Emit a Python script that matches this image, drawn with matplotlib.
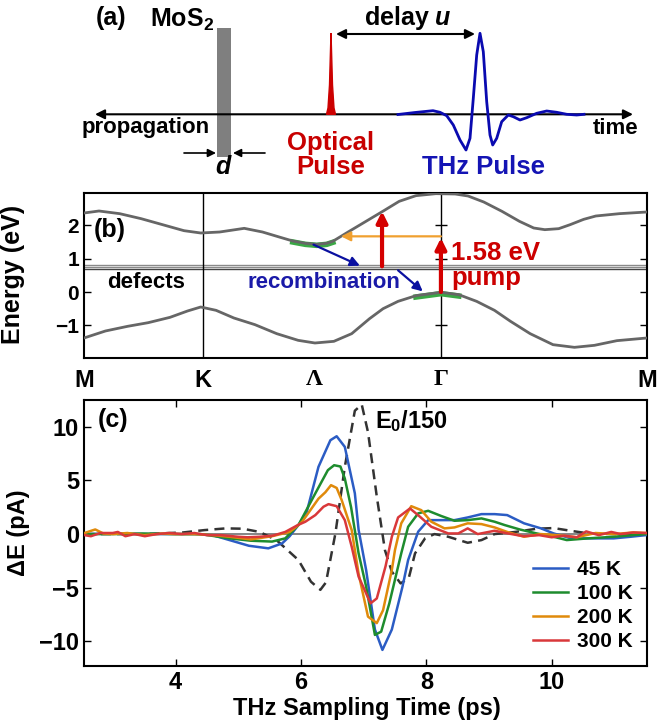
import numpy as np
import matplotlib
matplotlib.use("Agg")
import matplotlib.pyplot as plt
from matplotlib.patches import Rectangle

plt.rcParams['font.family'] = ['Liberation Sans', 'DejaVu Sans']
plt.rcParams['font.weight'] = 'bold'
plt.rcParams['axes.labelweight'] = 'bold'
plt.rcParams['mathtext.fontset'] = 'custom'
plt.rcParams['mathtext.rm'] = 'Liberation Sans:bold'
plt.rcParams['mathtext.bf'] = 'Liberation Sans:bold'
plt.rcParams['mathtext.it'] = 'Liberation Sans:bold:italic'
plt.rcParams['axes.linewidth'] = 1.5

# ---------------- panel (a): schematic (figure pixel units, y down)
thz_x = [398, 415, 433, 440, 446.7, 453.3, 460, 466, 470, 473.3, 476.7, 480, 483.3, 486.7,
         490, 492.7, 496.7, 501.7, 508.3, 513.3, 520, 526.7, 536.7, 546.7, 556.7, 566.7, 576.7, 584]
thz_y = [114.5, 112.5, 110.7, 112.3, 115.7, 125, 140, 150, 138.3, 98.3, 55, 33.3, 51.7, 101.7,
         135, 145, 138.3, 121.7, 115, 116.7, 120, 117.7, 113.3, 111, 112.3, 114.3, 115, 114.3]
opt_x = [326.5, 328, 329.5, 330.5, 331, 331.5, 332.5, 334, 335.5]
opt_y = [114.3, 108, 85, 50, 33, 50, 85, 108, 114.3]

# ---------------- panel (b): band structure, k-path M-K-Gamma-M
k_K = 1 / 3
k_L = 0.645
k_G = 1.0
k_M2 = 1 + 1 / np.sqrt(3)
k_cb = np.array([0, 0.042, 0.10, 0.16, 0.22, 0.28, 0.327, 0.38, 0.449, 0.50, 0.55, 0.585, 0.62,
                 0.652, 0.68, 0.697, 0.743, 0.79, 0.837, 0.883, 0.93, 0.986, 1.04, 1.076, 1.12,
                 1.171, 1.22, 1.26, 1.291, 1.33, 1.362, 1.40, 1.434, 1.50, 1.577])
e_cb = np.array([2.37, 2.43, 2.35, 2.20, 2.02, 1.84, 1.77, 1.80, 1.91, 1.80, 1.64, 1.53, 1.46,
                 1.43, 1.46, 1.52, 1.82, 2.12, 2.42, 2.72, 2.89, 2.95, 2.94, 2.88, 2.70,
                 2.42, 2.12, 1.92, 1.87, 1.90, 2.02, 2.18, 2.28, 2.35, 2.40])
k_vb = np.array([0, 0.06, 0.122, 0.18, 0.241, 0.29, 0.327, 0.37, 0.42, 0.479, 0.54, 0.60, 0.647,
                 0.70, 0.75, 0.80, 0.838, 0.88, 0.93, 1.0, 1.05, 1.10, 1.15, 1.195, 1.25, 1.314,
                 1.374, 1.43, 1.493, 1.577])
e_vb = np.array([-1.38, -1.17, -1.03, -0.92, -0.76, -0.57, -0.45, -0.55, -0.78, -0.98, -1.25,
                 -1.45, -1.53, -1.48, -1.25, -0.80, -0.50, -0.28, -0.11, -0.01, -0.08, -0.28,
                 -0.55, -0.88, -1.25, -1.58, -1.66, -1.60, -1.46, -1.38])
defect_e = [0.80, 0.76, 0.69]
defect_c = ['#8a8a8a', '#8a8a8a', '#444444']
kpath_ticks = [0, k_K, k_L, k_G, k_M2]
kpath_labels = ['M', 'K', 'Λ', 'Γ', 'M']

# ---------------- panel (c): THz transients
t_45 = [2.55, 3.0, 3.5, 4.0, 4.3, 4.59, 4.86, 5.17, 5.48, 5.70, 5.82, 5.96, 6.09, 6.28, 6.47,
        6.57, 6.70, 6.86, 6.92, 7.04, 7.18, 7.30, 7.45, 7.62, 7.71, 7.87, 8.03, 8.24, 8.45,
        8.66, 8.88, 9.09, 9.29, 9.56, 9.83, 10.03, 10.31, 10.71, 10.99, 11.26, 11.5]
y_45 = [0.0, 0.05, 0.0, 0.0, 0.0, -0.1, -0.56, -1.09, -1.33, -0.87, -0.2, 0.84, 2.0, 6.27, 8.75,
        9.12, 8.13, 3.8, 0.4, -3.35, -8.9, -10.8, -8.9, -4.9, -2.42, 0.22, 1.3, 1.3, 1.3,
        1.55, 1.86, 1.86, 1.77, 1.0, 0.53, 0.06, -0.4, -0.4, -0.4, -0.25, -0.1]
t_100 = [2.55, 3.0, 3.5, 4.0, 4.4, 4.86, 5.2, 5.54, 5.75, 5.96, 6.23, 6.43, 6.53, 6.63, 6.70,
         6.80, 6.92, 7.04, 7.18, 7.28, 7.41, 7.60, 7.71, 7.87, 8.03, 8.24, 8.45, 8.66, 8.88,
         9.09, 9.25, 9.49, 9.76, 10.03, 10.24, 10.58, 10.99, 11.5]
y_100 = [0.0, 0.0, 0.05, 0.0, 0.0, -0.4, -0.62, -0.7, -0.4, 0.84, 3.8, 5.96, 6.42, 6.3, 5.18,
         2.5, -1.8, -4.9, -9.4, -9.1, -6.46, -1.8, 0.68, 1.93, 2.17, 1.68, 1.24, 1.3, 1.46,
         1.15, 0.84, 0.43, 0.06, -0.25, -0.56, -0.4, -0.25, 0.0]
t_200 = [2.55, 2.65, 2.72, 2.85, 3.0, 3.23, 3.5, 3.8, 4.0, 4.3, 4.6, 4.86, 5.2, 5.54, 5.82,
         5.96, 6.02, 6.28, 6.39, 6.48, 6.57, 6.65, 6.81, 6.92, 7.07, 7.21, 7.31, 7.45, 7.50,
         7.60, 7.76, 7.92, 8.08, 8.29, 8.45, 8.66, 8.88, 9.09, 9.29, 9.56, 9.83, 10.1, 10.4,
         10.7, 11.0, 11.3, 11.5]
y_200 = [0.1, 0.3, 0.43, 0.05, 0.0, 0.1, -0.1, 0.05, 0.0, 0.0, -0.1, -0.25, -0.5, -0.2, 0.2,
         0.84, 1.15, 3.3, 3.9, 4.56, 4.3, 3.17, 0.37, -3.7, -7.7, -8.3, -7.1, -3.35, -1.49,
         1.0, 2.6, 2.23, 1.15, 0.53, 0.62, 1.0, 0.93, 0.62, 0.2, -0.25, 0.0, -0.1, -0.3,
         0.1, 0.0, 0.15, 0.1]
t_300 = [2.55, 2.65, 2.8, 3.0, 3.08, 3.2, 3.35, 3.51, 3.7, 3.9, 4.1, 4.3, 4.5, 4.73, 5.0, 5.15,
         5.34, 5.55, 5.75, 5.95, 6.07, 6.23, 6.36, 6.44, 6.57, 6.70, 6.81, 6.92, 7.00, 7.11,
         7.21, 7.35, 7.45, 7.55, 7.74, 7.90, 8.08, 8.35, 8.51, 8.66, 8.82, 9.09, 9.3, 9.55,
         9.8, 10.0, 10.2, 10.4, 10.55, 10.75, 10.95, 11.1, 11.3, 11.5]
y_300 = [-0.1, -0.2, 0.1, 0.1, 0.2, -0.2, 0.0, -0.2, 0.0, 0.1, 0.0, 0.1, -0.1, -0.1, -0.25,
         -0.3, -0.25, -0.15, 0.2, 0.84, 1.15, 1.77, 2.55, 2.79, 2.6, 1.3, -1.18, -3.97, -5.0,
         -6.46, -6.0, -3.0, -0.25, 1.55, 2.39, 1.61, 0.68, 0.06, 0.06, 0.53, 0.0, 0.31, 0.06,
         -0.2, -0.1, -0.3, -0.15, -0.3, 0.25, -0.1, 0.2, 0.0, 0.15, 0.1]
t_ref = [2.55, 3.5, 4.12, 4.46, 4.8, 5.07, 5.34, 5.61, 5.96, 6.16, 6.31, 6.40, 6.55, 6.70,
         6.86, 6.97, 7.07, 7.21, 7.34, 7.45, 7.59, 7.72, 7.82, 7.98, 8.13, 8.35, 8.66, 8.88,
         9.09, 9.42, 9.76, 10.03, 10.31, 10.6, 11.0, 11.5]
y_ref = [0.0, 0.0, 0.15, 0.37, 0.53, 0.5, 0.2, -0.56, -2.42, -4.44, -5.2, -4.5, 0.06, 6.27,
         11.5, 12.08, 9.5, 3.5, -1.5, -3.5, -4.6, -4.1, -1.8, -0.4, 0.0, -0.25, -0.81, -0.56,
         0.0, 0.2, 0.5, 0.56, 0.3, 0.05, 0.0, 0.0]
temps = ['45 K', '100 K', '200 K', '300 K']
colors = ['#2b5cc4', '#1e8c2e', '#e08a0b', '#d9383a']

fig = plt.figure(figsize=(6.67, 7.21), dpi=100)

# ---- (a)
ax_a = fig.add_axes([0, 1 - 190 / 721, 1, 190 / 721])
ax_a.set_xlim(0, 667)
ax_a.set_ylim(190, 0)
ax_a.axis('off')
ax_a.add_patch(Rectangle((217, 28), 14, 129, facecolor='#7f7f7f', edgecolor='none', zorder=1))
ax_a.annotate('', xy=(95, 114.3), xytext=(633, 114.3),
              arrowprops=dict(arrowstyle='<|-|>', color='black', lw=1.5,
                              mutation_scale=14, shrinkA=0, shrinkB=0), zorder=2)
ax_a.annotate('', xy=(216, 153), xytext=(184, 153),
              arrowprops=dict(arrowstyle='-|>', color='black', lw=1.2,
                              mutation_scale=12, shrinkA=0, shrinkB=0))
ax_a.annotate('', xy=(233, 153), xytext=(265, 153),
              arrowprops=dict(arrowstyle='-|>', color='black', lw=1.2,
                              mutation_scale=12, shrinkA=0, shrinkB=0))
ax_a.annotate('', xy=(336, 34), xytext=(475, 34),
              arrowprops=dict(arrowstyle='<|-|>', color='black', lw=1.5,
                              mutation_scale=14, shrinkA=0, shrinkB=0))
ax_a.fill(opt_x, opt_y, color='#cc0000', zorder=3)
ax_a.plot(thz_x, thz_y, color='#0a0ab0', lw=2, zorder=3)
ax_a.text(111, 18, '(a)', fontsize=18, ha='center', va='center')
ax_a.text(150, 20, 'MoS$_2$', fontsize=18, ha='left', va='center')
ax_a.text(408, 18, r'delay $\mathit{u}$', fontsize=18, ha='center', va='center')
ax_a.text(146, 127, 'propagation', fontsize=16, ha='center', va='center')
ax_a.text(616, 128, 'time', fontsize=16, ha='center', va='center')
ax_a.text(223, 167, 'd', fontsize=18, style='italic', ha='center', va='center')
ax_a.text(331, 155, 'Optical\nPulse', fontsize=18.5, color='#c80000', ha='center',
          va='center', linespacing=1.0)
ax_a.text(483, 167, 'THz Pulse', fontsize=18.5, color='#1414b4', ha='center', va='center')

# ---- (b)
ax_b = fig.add_axes([84 / 667, 1 - 358 / 721, 563 / 667, 165 / 721])
for e, c in zip(defect_e, defect_c):
    ax_b.axhline(e, color=c, lw=1, zorder=1)
ax_b.axvline(k_K, color='black', lw=1)
ax_b.axvline(k_G, color='black', lw=1)
m_l = (k_cb >= 0.585) & (k_cb <= 0.70)
ax_b.plot(k_cb[m_l], e_cb[m_l] - 0.03, color='#3aa845', lw=4, zorder=2)
m_g = (k_vb >= 0.92) & (k_vb <= 1.06)
ax_b.plot(k_vb[m_g], e_vb[m_g] - 0.04, color='#3aa845', lw=4, zorder=2)
ax_b.plot(k_cb, e_cb, color='#666666', lw=2, zorder=3)
ax_b.plot(k_vb, e_vb, color='#666666', lw=2, zorder=3)
ax_b.plot([k_G] * 3, [-1, 1, 2], '_', ms=9, mew=1, color='black')

arr = dict(shrinkA=0, shrinkB=0)
ax_b.annotate('', xy=(k_G, 1.62), xytext=(k_G, 0.0),
              arrowprops=dict(arrowstyle='-|>', color='#d40000', lw=3, mutation_scale=16, **arr), zorder=5)
ax_b.annotate('', xy=(0.72, 1.67), xytext=(k_G, 1.67),
              arrowprops=dict(arrowstyle='-|>', color='#f0a030', lw=1.6, mutation_scale=14, **arr), zorder=4)
ax_b.annotate('', xy=(0.835, 2.42), xytext=(0.835, 0.77),
              arrowprops=dict(arrowstyle='-|>', color='#d40000', lw=3, mutation_scale=16, **arr), zorder=5)
ax_b.annotate('', xy=(0.773, 0.79), xytext=(0.643, 1.42),
              arrowprops=dict(arrowstyle='-|>', color='#0a10a0', lw=1.6, mutation_scale=14, **arr), zorder=4)
ax_b.annotate('', xy=(0.949, 0.02), xytext=(0.88, 0.65),
              arrowprops=dict(arrowstyle='-|>', color='#0a10a0', lw=1.6, mutation_scale=14, **arr), zorder=4)

ax_b.text(0.026, 1.87, '(b)', fontsize=18, ha='left', va='center')
ax_b.text(0.175, 0.27, 'defects', fontsize=16, ha='center', va='center')
ax_b.text(0.671, 0.27, 'recombination', fontsize=16, color='#1a1aa8', ha='center', va='center')
ax_b.text(1.028, 1.17, '1.58 eV', fontsize=18.5, color='#cc0000', ha='left', va='center')
ax_b.text(1.028, 0.42, 'pump', fontsize=18.5, color='#cc0000', ha='left', va='center')

ax_b.set_xlim(0, k_M2)
ax_b.set_ylim(-1.98, 2.97)
ax_b.set_xticks(kpath_ticks)
ax_b.set_xticklabels(kpath_labels)
ax_b.set_yticks([-1, 0, 1, 2])
ax_b.tick_params(axis='x', length=0, pad=8, labelsize=17)
ax_b.tick_params(axis='y', direction='in', right=True, length=5, width=1, labelsize=15)
for lbl in ax_b.get_xticklabels():
    if lbl.get_text() in ('Λ', 'Γ'):
        lbl.set_fontfamily('Liberation Serif')
ax_b.set_ylabel('Energy (eV)', fontsize=18)
ax_b.yaxis.set_label_coords(-0.104, 0.505)

# ---- (c)
ax_c = fig.add_axes([84 / 667, 1 - 666 / 721, 563 / 667, 266 / 721])
ax_c.axhline(0, color='#707070', lw=1.2, zorder=1)
ax_c.plot(t_ref, y_ref, color='#333333', lw=1.8, dashes=(4, 2.5), zorder=2)
for t, y, lab, c in zip([t_45, t_100, t_200, t_300], [y_45, y_100, y_200, y_300], temps, colors):
    ax_c.plot(t, y, color=c, lw=1.8, label=lab, zorder=3)
ax_c.text(2.76, 10.6, '(c)', fontsize=18, ha='left', va='center')
ax_c.text(7.18, 10.5, 'E$_0$/150', fontsize=17, ha='left', va='center')
ax_c.set_xlim(2.54, 11.52)
ax_c.set_ylim(-12.3, 12.5)
ax_c.set_xticks([4, 6, 8, 10])
ax_c.set_yticks([-10, -5, 0, 5, 10])
ax_c.tick_params(direction='in', top=True, right=True, length=5, width=1, labelsize=17)
ax_c.set_xlabel('THz Sampling Time (ps)', fontsize=17)
ax_c.xaxis.set_label_coords(0.502, -0.115)
ax_c.set_ylabel('ΔE (pA)', fontsize=17)
ax_c.yaxis.set_label_coords(-0.096, 0.5)
ax_c.legend(loc='lower right', frameon=False, fontsize=15, handlelength=1.7,
            handletextpad=0.4, labelspacing=0.25, borderaxespad=0.3)

fig.savefig('out.png', dpi=100)
